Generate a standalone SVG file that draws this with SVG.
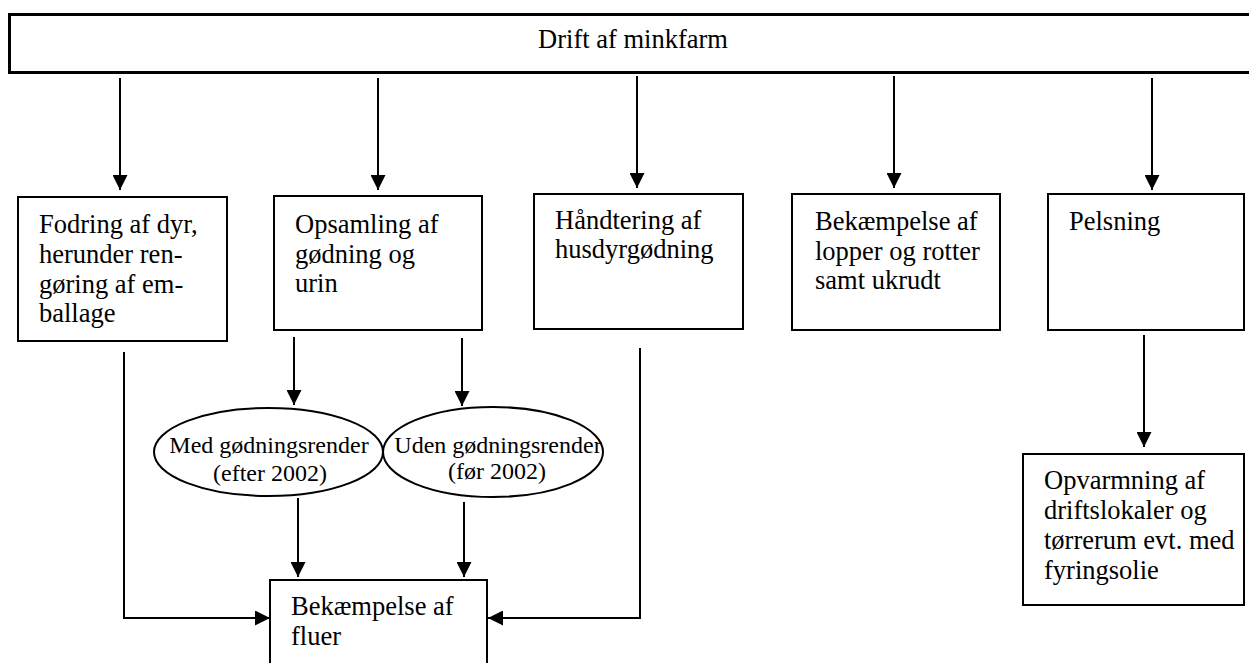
<svg xmlns="http://www.w3.org/2000/svg" width="1249" height="663" viewBox="0 0 1249 663">
  <style>
    .box { fill: #fff; stroke: #000; stroke-width: 2; }
    .top { fill: #fff; stroke: #000; stroke-width: 3; }
    .ell { fill: #fff; stroke: #000; stroke-width: 2; }
    .t { font-family: "Liberation Serif", "Times New Roman", serif; font-size: 26.5px; fill: #000; }
    .s { font-family: "Liberation Serif", "Times New Roman", serif; font-size: 24px; fill: #000; }
    .c { fill: none; stroke: #000; stroke-width: 2; }
  </style>
  <defs>
    <marker id="arrow" markerUnits="userSpaceOnUse" markerWidth="15" markerHeight="15" refX="15" refY="7.5" orient="auto">
      <path d="M0,0 L15,7.5 L0,15 z" fill="#000"/>
    </marker>
  </defs>
  <rect width="1249" height="663" fill="#fff"/>

  <!-- top-level activity -->
  <g id="drift">
    <rect class="top" x="9.5" y="14.5" width="1260" height="58"/>
    <text class="t" x="633" y="48" text-anchor="middle">Drift af minkfarm</text>
  </g>

  <!-- connectors -->
  <g id="connectors">
    <line class="c" x1="120" y1="78" x2="120" y2="190" marker-end="url(#arrow)"/>
    <line class="c" x1="378" y1="78" x2="378" y2="190" marker-end="url(#arrow)"/>
    <line class="c" x1="637" y1="76" x2="637" y2="188" marker-end="url(#arrow)"/>
    <line class="c" x1="894" y1="76" x2="894" y2="188" marker-end="url(#arrow)"/>
    <line class="c" x1="1152" y1="78" x2="1152" y2="190" marker-end="url(#arrow)"/>

    <line class="c" x1="294" y1="337" x2="294" y2="405" marker-end="url(#arrow)"/>
    <line class="c" x1="462" y1="338" x2="462" y2="406" marker-end="url(#arrow)"/>

    <line class="c" x1="298" y1="498" x2="298" y2="577" marker-end="url(#arrow)"/>
    <line class="c" x1="464" y1="502" x2="464" y2="577" marker-end="url(#arrow)"/>

    <path class="c" d="M124,352 L124,618 L270,618" marker-end="url(#arrow)"/>
    <path class="c" d="M640,348 L640,618 L488,618" marker-end="url(#arrow)"/>

    <line class="c" x1="1144" y1="335" x2="1144" y2="447" marker-end="url(#arrow)"/>
  </g>

  <g id="fodring">
    <rect class="box" x="18" y="197" width="209" height="144"/>
    <text class="t" x="39" y="233">Fodring af dyr,</text>
    <text class="t" x="39" y="263">herunder ren-</text>
    <text class="t" x="39" y="293">gøring af em-</text>
    <text class="t" x="39" y="322">ballage</text>
  </g>

  <g id="opsamling">
    <rect class="box" x="274" y="196" width="208" height="134"/>
    <text class="t" x="295" y="233">Opsamling af</text>
    <text class="t" x="295" y="263">gødning og</text>
    <text class="t" x="295" y="292">urin</text>
  </g>

  <g id="haandtering">
    <rect class="box" x="534" y="194" width="209" height="135"/>
    <text class="t" x="555" y="229">Håndtering af</text>
    <text class="t" x="555" y="258">husdyrgødning</text>
  </g>

  <g id="bekaempelse-lopper">
    <rect class="box" x="792" y="194" width="208" height="136"/>
    <text class="t" x="815" y="230">Bekæmpelse af</text>
    <text class="t" x="815" y="260">lopper og rotter</text>
    <text class="t" x="815" y="289">samt ukrudt</text>
  </g>

  <g id="pelsning">
    <rect class="box" x="1048" y="194" width="196" height="136"/>
    <text class="t" x="1069" y="230">Pelsning</text>
  </g>

  <g id="med-render">
    <ellipse class="ell" cx="268.5" cy="452" rx="114.5" ry="44"/>
    <text class="s" x="269" y="453" text-anchor="middle">Med gødningsrender</text>
    <text class="s" x="270" y="481" text-anchor="middle">(efter 2002)</text>
  </g>

  <g id="uden-render">
    <ellipse class="ell" cx="493" cy="452" rx="110" ry="45"/>
    <text class="s" x="498" y="453" text-anchor="middle">Uden gødningsrender</text>
    <text class="s" x="497" y="479" text-anchor="middle">(før 2002)</text>
  </g>

  <g id="bekaempelse-fluer">
    <rect class="box" x="270" y="580" width="217" height="100"/>
    <text class="t" x="291" y="615">Bekæmpelse af</text>
    <text class="t" x="291" y="645">fluer</text>
  </g>

  <g id="opvarmning">
    <rect class="box" x="1023" y="454" width="221" height="151"/>
    <text class="t" x="1044" y="489">Opvarmning af</text>
    <text class="t" x="1044" y="519">driftslokaler og</text>
    <text class="t" x="1044" y="549">tørrerum evt. med</text>
    <text class="t" x="1044" y="579">fyringsolie</text>
  </g>
</svg>
